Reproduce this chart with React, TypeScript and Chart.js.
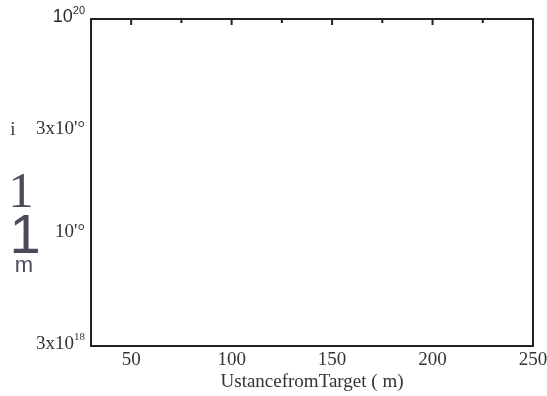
import React, { useEffect, useRef } from "react";
import { Chart, registerables } from "chart.js";

Chart.register(...registerables);

// ---- data ----
const xMin = 30;
const xMax = 250;
const xTickValues = [50, 100, 150, 200, 250];
const xMinorTickValues = [75, 125, 175, 225];
const yMin = 3e18;
const yMax = 1e20;
const yTickValues = [1e20, 3e19, 1e19, 3e18];
const yTickBase = ["10", "3x10'°", "10'°", "3x10"];
const yTickSup = ["20", "", "", "18"];
const xTitle = "UstancefromTarget ( m)";
const yTitleParts = ["i", "1", "1", "m"];
const seriesValues: { x: number; y: number }[] = [];

const SERIF = "'Liberation Serif', 'Times New Roman', serif";
const SANS = "'Liberation Sans', Arial, sans-serif";

const framePlugin = {
  id: "frame",
  afterDraw(chart: any) {
    const { ctx, chartArea } = chart;
    const xs = chart.scales.x;
    const ys = chart.scales.y;
    ctx.save();
    // frame
    ctx.strokeStyle = "#222";
    ctx.lineWidth = 2;
    ctx.strokeRect(chartArea.left, chartArea.top, chartArea.right - chartArea.left, chartArea.bottom - chartArea.top);
    // inward ticks on top axis
    ctx.beginPath();
    xTickValues.forEach((v) => {
      const px = xs.getPixelForValue(v);
      ctx.moveTo(px, chartArea.top);
      ctx.lineTo(px, chartArea.top + 6);
    });
    xMinorTickValues.forEach((v) => {
      const px = xs.getPixelForValue(v);
      ctx.moveTo(px, chartArea.top);
      ctx.lineTo(px, chartArea.top + 4);
    });
    ctx.stroke();

    // y tick labels with superscripts
    const rightX = chartArea.left - 6;
    ctx.textBaseline = "middle";
    yTickValues.forEach((v, i) => {
      const py = ys.getPixelForValue(v) - 2;
      const isSans = i === 0;
      const baseFont = isSans ? `18px ${SANS}` : `19px ${SERIF}`;
      const supFont = isSans ? `11px ${SANS}` : `11px ${SERIF}`;
      ctx.fillStyle = isSans ? "#2a2a2a" : "#333";
      ctx.font = supFont;
      const supW = yTickSup[i] ? ctx.measureText(yTickSup[i]).width : 0;
      ctx.font = baseFont;
      const baseW = ctx.measureText(yTickBase[i]).width;
      ctx.textAlign = "left";
      ctx.fillText(yTickBase[i], rightX - supW - baseW, py);
      if (yTickSup[i]) {
        ctx.font = supFont;
        ctx.fillText(yTickSup[i], rightX - supW, py - (isSans ? 6 : 7));
      }
    });

    // y axis title fragments
    ctx.fillStyle = "#3c3c48";
    ctx.textAlign = "center";
    ctx.textBaseline = "alphabetic";
    const y3 = ys.getPixelForValue(3e19);
    ctx.font = `19px ${SERIF}`;
    ctx.fillText(yTitleParts[0], 13, y3 + 4);
    ctx.fillStyle = "#4a4a58";
    ctx.font = `51px ${SERIF}`;
    ctx.fillText(yTitleParts[1], 21, 207);
    ctx.font = `56px ${SANS}`;
    ctx.fillText(yTitleParts[2], 25, 253);
    ctx.font = `22px ${SANS}`;
    ctx.fillText(yTitleParts[3], 24, 272);
    ctx.restore();
  },
};

export default function App() {
  const ref = useRef<HTMLCanvasElement>(null);
  useEffect(() => {
    if (!ref.current) return;
    const chart = new Chart(ref.current, {
      type: "scatter",
      data: {
        datasets: [{ data: seriesValues, borderColor: "#000", backgroundColor: "#000" }],
      },
      options: {
        animation: false,
        responsive: false,
        layout: { padding: { top: 19, right: 14, left: 0, bottom: 0 } },
        plugins: { legend: { display: false }, tooltip: { enabled: false } },
        scales: {
          x: {
            type: "linear",
            min: xMin,
            max: xMax,
            grid: { display: false, drawTicks: false },
            border: { display: false },
            afterBuildTicks: (s: any) => {
              s.ticks = xTickValues.map((v) => ({ value: v }));
            },
            afterFit: (s: any) => {
              s.height = 50;
              s.paddingLeft = 0;
              s.paddingRight = 0;
            },
            ticks: {
              color: "#333",
              padding: 3,
              maxRotation: 0,
              autoSkip: false,
              font: { family: SERIF, size: 19 },
            },
            title: {
              display: true,
              text: xTitle,
              color: "#333",
              font: { family: SERIF, size: 19 },
              padding: { top: 0, bottom: 3 },
            },
          },
          y: {
            type: "logarithmic",
            min: yMin,
            max: yMax,
            grid: { display: false, drawTicks: false },
            border: { display: false },
            ticks: { display: false },
            afterBuildTicks: (s: any) => {
              s.ticks = yTickValues.map((v) => ({ value: v }));
            },
            afterFit: (s: any) => {
              s.width = 91;
              s.paddingTop = 0;
              s.paddingBottom = 0;
            },
          },
        },
      },
      plugins: [framePlugin],
    } as any);
    return () => chart.destroy();
  }, []);
  return (
    <div style={{ position: "fixed", left: 0, top: 0, width: 547, height: 396, background: "#fff" }}>
      <canvas ref={ref} width={547} height={396} />
    </div>
  );
}
